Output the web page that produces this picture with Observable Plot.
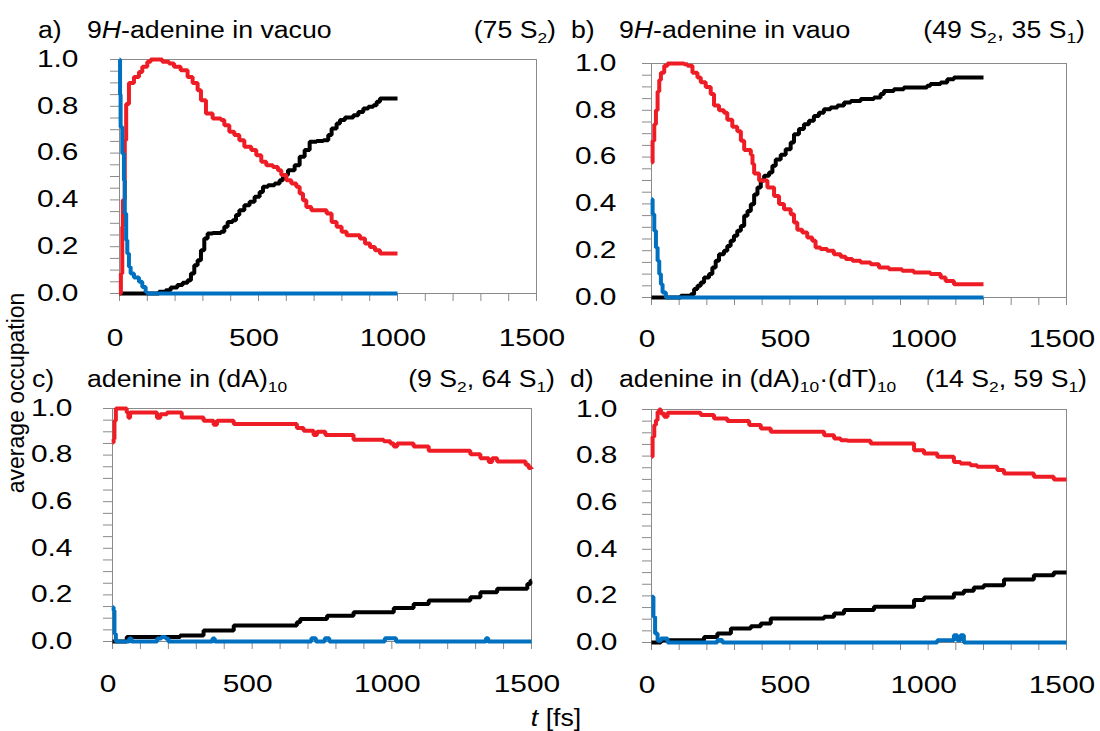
<!DOCTYPE html>
<html><head><meta charset="utf-8">
<script src="https://cdn.jsdelivr.net/npm/d3@7"></script>
<script src="https://cdn.jsdelivr.net/npm/@observablehq/plot@0.6"></script>
<style>
body{margin:0;background:#fff;}
#fig{position:relative;width:1100px;height:731px;overflow:hidden;background:#fff;}
#fig svg.panel{position:absolute;overflow:visible;background:transparent;}
#overlay{position:absolute;left:0;top:0;pointer-events:none;}
</style></head>
<body><div id="fig"></div>
<script>
// ---------- data: [t (fs), average occupation] ----------
const aRed = [[0,0],[5,0.085],[10,0.285],[12,0.40],[19,0.655],[24,0.81],[34,0.90],[52,0.925],[70,0.947],[82,0.969],[100,0.99],[112,1.0],[142,1.0],[154,0.99],[178,0.983],[196,0.969],[220,0.954],[245,0.925],[263,0.90],[281,0.869],[293,0.826],[311,0.769],[335,0.748],[365,0.741],[377,0.719],[395,0.691],[413,0.677],[431,0.655],[449,0.627],[474,0.613],[492,0.591],[510,0.563],[528,0.548],[552,0.541],[570,0.527],[582,0.506],[600,0.484],[618,0.47],[636,0.456],[648,0.427],[660,0.399],[672,0.37],[690,0.356],[727,0.356],[745,0.342],[763,0.306],[781,0.285],[799,0.264],[817,0.249],[847,0.249],[865,0.235],[883,0.214],[901,0.199],[919,0.185],[937,0.171],[1000,0.171]];
const aBlack = [[0,0],[142,0.007],[166,0.014],[184,0.026],[208,0.036],[227,0.046],[245,0.057],[257,0.085],[269,0.121],[281,0.142],[293,0.185],[305,0.235],[317,0.256],[335,0.259],[365,0.264],[377,0.285],[389,0.306],[407,0.313],[419,0.335],[431,0.356],[449,0.377],[468,0.392],[486,0.413],[504,0.434],[516,0.456],[534,0.463],[558,0.47],[576,0.484],[588,0.506],[606,0.527],[630,0.548],[648,0.584],[666,0.613],[684,0.648],[709,0.652],[733,0.655],[751,0.677],[763,0.705],[781,0.726],[793,0.741],[811,0.752],[823,0.752],[841,0.762],[859,0.776],[877,0.791],[895,0.798],[913,0.805],[925,0.819],[937,0.833],[1000,0.833]];
const aBlue = [[0,1.0],[2,0.85],[4,0.712],[10,0.598],[16,0.484],[19,0.342],[24,0.228],[28,0.171],[34,0.114],[40,0.085],[52,0.068],[70,0.05],[82,0.028],[94,0.007],[100,0],[1000,0]];

const bRed = [[0,0.577],[4,0.67],[10,0.74],[16,0.80],[22,0.88],[28,0.93],[34,0.96],[46,0.99],[58,1.0],[118,0.997],[130,0.99],[148,0.96],[166,0.94],[178,0.92],[196,0.90],[214,0.87],[226,0.82],[244,0.80],[262,0.79],[274,0.76],[292,0.73],[310,0.71],[323,0.67],[335,0.63],[359,0.61],[365,0.57],[371,0.53],[389,0.50],[419,0.47],[443,0.434],[461,0.40],[479,0.377],[503,0.356],[515,0.32],[527,0.29],[545,0.278],[563,0.256],[581,0.242],[593,0.214],[611,0.207],[635,0.20],[659,0.185],[684,0.174],[702,0.164],[726,0.157],[756,0.15],[792,0.142],[822,0.128],[858,0.121],[906,0.114],[948,0.107],[1008,0.10],[1045,0.085],[1063,0.071],[1093,0.057],[1200,0.057]];
const bBlack = [[0,0],[106,0.007],[142,0.014],[154,0.036],[166,0.05],[178,0.064],[190,0.085],[208,0.10],[220,0.128],[232,0.157],[244,0.185],[262,0.20],[274,0.22],[286,0.242],[298,0.264],[310,0.285],[323,0.306],[335,0.349],[347,0.37],[359,0.399],[371,0.44],[383,0.47],[395,0.50],[407,0.52],[425,0.534],[437,0.563],[449,0.59],[467,0.61],[485,0.634],[503,0.662],[515,0.698],[533,0.72],[551,0.74],[569,0.755],[587,0.776],[605,0.79],[623,0.805],[647,0.812],[672,0.82],[696,0.833],[720,0.84],[756,0.848],[804,0.855],[828,0.87],[840,0.883],[876,0.89],[912,0.897],[996,0.905],[1008,0.912],[1045,0.919],[1069,0.933],[1093,0.94],[1200,0.94]];
const bBlue = [[0,0.42],[4,0.356],[10,0.285],[16,0.214],[22,0.157],[28,0.10],[34,0.057],[40,0.021],[52,0],[1200,0]];

const cRed = [[0,0.854],[4,0.869],[7,0.947],[12,1.0],[51,0.983],[57,0.96],[63,0.983],[159,0.96],[171,0.975],[195,0.983],[248,0.961],[326,0.947],[362,0.93],[374,0.947],[434,0.933],[660,0.916],[684,0.904],[720,0.886],[732,0.9],[762,0.886],[863,0.866],[971,0.859],[995,0.85],[1007,0.837],[1019,0.85],[1078,0.837],[1132,0.819],[1281,0.804],[1317,0.787],[1347,0.77],[1359,0.787],[1377,0.773],[1479,0.759],[1490,0.745],[1500,0.74]];
const cBlack = [[0,0],[51,0.019],[242,0.026],[326,0.047],[434,0.069],[660,0.083],[672,0.097],[768,0.111],[863,0.126],[1007,0.144],[1078,0.161],[1132,0.176],[1281,0.19],[1317,0.211],[1377,0.226],[1485,0.247],[1496,0.261],[1500,0.261]];
const cBlue = [[0,0.147],[4,0.133],[7,0.033],[12,0],[60,0.013],[68,0],[160,0.013],[175,0.019],[190,0.013],[200,0],[358,0.013],[366,0],[712,0.014],[728,0],[760,0.014],[776,0],[975,0.014],[1015,0],[1337,0.014],[1345,0],[1500,0]];

const dRed = [[0,0.797],[4,0.883],[10,0.933],[16,0.954],[22,0.99],[28,1.0],[34,0.983],[46,0.969],[58,0.986],[178,0.976],[226,0.961],[274,0.951],[353,0.933],[395,0.918],[431,0.904],[624,0.89],[660,0.876],[684,0.868],[708,0.866],[792,0.854],[949,0.825],[985,0.811],[1033,0.797],[1093,0.775],[1117,0.768],[1153,0.761],[1177,0.754],[1250,0.74],[1274,0.725],[1382,0.711],[1454,0.70],[1500,0.70]];
const dBlack = [[0,0],[34,0.01],[190,0.024],[238,0.039],[287,0.06],[359,0.07],[395,0.082],[431,0.103],[624,0.11],[660,0.124],[696,0.139],[804,0.153],[949,0.182],[985,0.193],[1093,0.21],[1129,0.222],[1165,0.236],[1201,0.246],[1274,0.27],[1382,0.289],[1454,0.30],[1500,0.30]];
const dBlue = [[0,0.196],[7,0.11],[13,0.039],[22,0.007],[34,0.017],[58,0],[238,0.011],[256,0],[1033,0.01],[1093,0.031],[1105,0.01],[1117,0.031],[1129,0],[1500,0]];

// ---------- ticks ----------
const xTickLabels = [0, 500, 1000, 1500];
const xMinorTicks = [0,100,200,300,400,500,600,700,800,900,1000,1100,1200,1300,1400,1500];
const yTickLabels = [0, 0.2, 0.4, 0.6, 0.8, 1.0];
const yMinorTicks = [0,0.05,0.1,0.15,0.2,0.25,0.3,0.35,0.4,0.45,0.5,0.55,0.6,0.65,0.7,0.75,0.8,0.85,0.9,0.95,1.0];

// ---------- layout (page px) ----------
const layout = [
  {L:119, T:59,  R:536,  B:293, xPad:36, yPad:41, red:aRed, black:aBlack, blue:aBlue},
  {L:651, T:63,  R:1066, B:297, xPad:33, yPad:35, red:bRed, black:bBlack, blue:bBlue},
  {L:112, T:408, R:531,  B:641, xPad:34, yPad:40, red:cRed, black:cBlack, blue:cBlue},
  {L:651, T:409, R:1066, B:642, xPad:34, yPad:34, red:dRed, black:dBlack, blue:dBlue}
];

const FONT = '"Liberation Sans", Arial, Helvetica, sans-serif';
const GRAY = "#8a8a8a";
const TICK_SX = 1.3, TITLE_SX = 1.16;

function stretchText(svg, sx) {
  svg.querySelectorAll("text").forEach(t => {
    const tr = t.getAttribute("transform") || "";
    const x = parseFloat(t.getAttribute("x")) || 0;
    t.setAttribute("transform", `${tr} translate(${x},0) scale(${sx},1) translate(${-x},0)`.trim());
  });
}

const fig = document.getElementById("fig");
const mL = 80, mR = 30, mT = 15, mB = 60;

for (const p of layout) {
  const w = p.R - p.L + mL + mR, h = p.B - p.T + mT + mB;
  const line = (data, color) => Plot.line(data, {x: d => d[0], y: d => d[1], curve: "step-after", stroke: color, strokeWidth: 4, strokeLinejoin: "miter", strokeLinecap: "butt"});
  const svg = Plot.plot({
    width: w, height: h,
    marginLeft: mL, marginRight: mR, marginTop: mT, marginBottom: mB,
    x: {domain: [0, 1500]},
    y: {domain: [0, 1]},
    style: {fontSize: "23px", fontFamily: FONT, color: "#000", background: "transparent", overflow: "visible"},
    marks: [
      Plot.frame({stroke: GRAY}),
      Plot.axisX({ticks: xMinorTicks, tickSize: 8, stroke: GRAY, fill: "none", label: null}),
      Plot.axisY({ticks: yMinorTicks, tickSize: 9, stroke: GRAY, fill: "none", label: null}),
      Plot.axisX({ticks: xTickLabels, tickSize: 0, tickPadding: p.xPad, dx: -4.5, tickFormat: d3.format("d"), label: null, fill: "#000"}),
      Plot.axisY({ticks: yTickLabels, tickSize: 0, tickPadding: p.yPad, tickFormat: d3.format(".1f"), label: null, fill: "#000"}),
      line(p.black, "#000000"),
      line(p.red, "#ee1c25"),
      line(p.blue, "#0070c0")
    ]
  });
  svg.classList.add("panel");
  svg.style.left = (p.L - mL) + "px";
  svg.style.top = (p.T - mT) + "px";
  stretchText(svg, TICK_SX);
  fig.appendChild(svg);
}

// ---------- titles and axis titles ----------
const sub = s => `<tspan font-size="15" dy="5">${s}</tspan><tspan dy="-5">`;
const titles = [
  {x: 38,   y: 38,  a: "start", t: "a)"},
  {x: 87,   y: 38,  a: "start", t: `9<tspan font-style="italic">H</tspan>-adenine in vacuo`},
  {x: 556,  y: 38,  a: "end",   t: `(75 S${sub("2")})</tspan>`},
  {x: 571,  y: 38,  a: "start", t: "b)"},
  {x: 619,  y: 38,  a: "start", t: `9<tspan font-style="italic">H</tspan>-adenine in vauo`},
  {x: 1085, y: 38,  a: "end",   t: `(49 S${sub("2")}, 35 S</tspan>${sub("1")})</tspan>`},
  {x: 32,   y: 387, a: "start", t: "c)"},
  {x: 87,   y: 387, a: "start", t: `adenine in (dA)${sub("10")}</tspan>`},
  {x: 555,  y: 387, a: "end",   t: `(9 S${sub("2")}, 64 S</tspan>${sub("1")})</tspan>`},
  {x: 570,  y: 387, a: "start", t: "d)"},
  {x: 619,  y: 387, a: "start", t: `adenine in (dA)${sub("10")}·(dT)</tspan>${sub("10")}</tspan>`},
  {x: 1087, y: 387, a: "end",   t: `(14 S${sub("2")}, 59 S</tspan>${sub("1")})</tspan>`}
];
let ov = `<svg id="overlay" width="1100" height="731" xmlns="http://www.w3.org/2000/svg" font-family='${FONT}' font-size="23" fill="#000">`;
for (const t of titles) {
  ov += `<text transform="translate(${t.x},${t.y}) scale(${TITLE_SX},1)" text-anchor="${t.a}">${t.t}</text>`;
}
ov += `<text transform="translate(24,393) rotate(-90) scale(1,1.04)" text-anchor="middle" font-size="23">average occupation</text>`;
ov += `<text transform="translate(556,726) scale(${TITLE_SX},1)" text-anchor="middle"><tspan font-style="italic">t</tspan> [fs]</text>`;
ov += `</svg>`;
fig.insertAdjacentHTML("beforeend", ov);
</script>
</body></html>
